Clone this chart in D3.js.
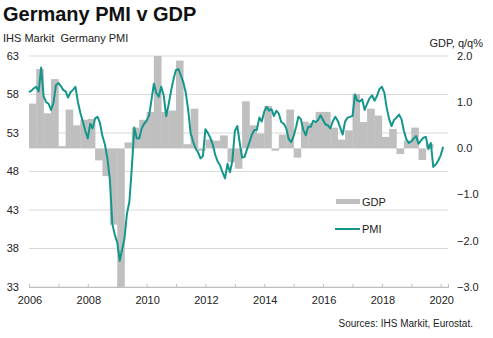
<!DOCTYPE html>
<html>
<head>
<meta charset="utf-8">
<script src="https://cdn.jsdelivr.net/npm/d3@7"></script>
<style>
  body { margin: 0; background: #fff; }
  svg { font-family: "Liberation Sans", Arial, sans-serif; }
  text { white-space: pre; }
</style>
</head>
<body>
<svg width="493" height="338"></svg>
<script>
// Germany composite PMI, monthly, first value = Dec 2005 (plotted at month end)
const pmiStart = new Date(2005, 11, 1);
const pmi = [
  58.3, 58.5, 58.8, 59.0, 58.4, 61.5, 57.8, 57.0, 56.8, 56.0, 56.9, 59.2,
  59.5, 59.1, 58.6, 58.4, 57.6, 58.3, 58.6, 59.0, 57.0, 55.6, 54.5, 53.3,
  52.3, 54.2, 53.6, 54.9, 55.1, 54.3, 52.6, 51.5, 49.7, 47.0, 41.2, 39.8,
  38.8, 36.4, 37.8, 39.3, 42.5, 44.1, 48.5, 53.7, 52.3, 52.3, 53.6, 54.2,
  54.6, 55.3, 57.2, 59.4, 58.2, 57.7, 59.0, 57.9, 55.2, 56.7, 58.5, 60.0,
  61.2, 61.3, 60.5, 59.6, 58.3, 56.0, 53.0, 51.9, 51.0, 50.5, 49.7, 50.0,
  53.5, 53.0, 52.4, 51.5, 50.2, 49.3, 48.8, 47.9, 47.1, 49.0, 47.9, 49.4,
  53.3, 53.9, 51.8, 49.8, 49.9, 50.9, 51.8, 52.8, 53.4, 53.4, 55.0, 54.5,
  55.8, 56.4, 55.9, 56.1, 55.2, 55.9, 55.5, 54.4, 54.2, 53.6, 52.2, 51.8,
  52.6, 53.8, 55.1, 54.8, 53.4, 52.7, 53.8, 53.8, 54.6, 54.4, 54.7, 55.3,
  54.7, 54.1, 54.0, 53.6, 54.5, 55.1, 54.6, 53.7, 52.8, 54.5, 55.0, 55.1,
  55.2, 58.0, 57.2, 57.1, 57.4, 56.0, 56.8, 57.5, 57.9, 57.2, 57.8, 58.7,
  59.0, 58.2, 56.3, 54.8, 53.9, 54.7, 55.0, 55.4, 54.8, 53.3, 52.2, 51.7,
  51.9, 52.3, 52.6, 51.6, 52.0, 52.4, 52.5, 50.9, 51.7, 48.6, 48.9, 49.4,
  50.1, 51.2
];

// GDP q/q %, quarterly from 2006 Q1
const gdpStart = new Date(2006, 0, 1);
const gdp = [
  0.97, 1.72, 0.76, 1.50,
  0.05, 0.84, 0.50, 0.62,
  0.64, -0.26, -0.60, -1.65,
  -4.5, 0.13, 0.45, 0.62,
  0.79, 2.00, 0.79, 0.82,
  1.90, 0.09, 0.86, -0.05,
  0.19, 0.17, 0.28, -0.30,
  -0.44, 1.02, 0.50, 0.32,
  0.92, -0.05, 0.30, 0.84,
  -0.20, 0.58, 0.55, 0.79,
  0.79, 0.45, 0.19, 0.39,
  1.18, 0.57, 0.86, 0.71,
  0.25, 0.42, -0.12, 0.17,
  0.45, -0.25, 0.10, 0.00
];

const pmiTicks = [33, 38, 43, 48, 53, 58, 63];
const gdpTicks = [-3, -2, -1, 0, 1, 2];
const yearLabels = [2006, 2008, 2010, 2012, 2014, 2016, 2018, 2020];

const svg = d3.select('svg');
const grey = '#bfbfbf';
const teal = '#14968b';
const txt = '#222';

const x = d3.scaleTime()
  .domain([new Date(2006, 0, 1), new Date(2020, 3, 1)])
  .range([29, 448]);
const yL = d3.scaleLinear().domain([33, 63]).range([287, 56]);
const yR = d3.scaleLinear().domain([-3, 2]).range([287, 56]);

// title
svg.append('text')
  .attr('x', 3).attr('y', 21)
  .attr('font-size', 20).attr('font-weight', 'bold').attr('fill', '#111')
  .text('Germany PMI v GDP');
svg.append('text')
  .attr('x', 3).attr('y', 42)
  .attr('font-size', 11).attr('fill', txt)
  .text('IHS Markit  Germany PMI');
svg.append('text')
  .attr('x', 483).attr('y', 47)
  .attr('text-anchor', 'end')
  .attr('font-size', 11).attr('fill', txt)
  .text('GDP, q/q%');

// gridlines
svg.append('g')
  .selectAll('line')
  .data(pmiTicks)
  .enter()
  .append('line')
  .attr('x1', x.range()[0]).attr('x2', x.range()[1])
  .attr('y1', d => yL(d)).attr('y2', d => yL(d))
  .attr('stroke', '#d9d9d9').attr('stroke-width', 1);

// gdp bars
svg.append('defs').append('clipPath').attr('id', 'plot')
  .append('rect')
  .attr('x', x.range()[0]).attr('y', 56)
  .attr('width', x.range()[1] - x.range()[0]).attr('height', 231);

svg.append('g')
  .attr('clip-path', 'url(#plot)')
  .selectAll('rect')
  .data(gdp)
  .enter()
  .append('rect')
  .attr('x', (d, i) => x(d3.timeMonth.offset(gdpStart, i * 3)))
  .attr('width', (d, i) => x(d3.timeMonth.offset(gdpStart, i * 3 + 3)) - x(d3.timeMonth.offset(gdpStart, i * 3)) + 0.3)
  .attr('y', d => yR(Math.max(0, d)))
  .attr('height', d => Math.abs(yR(d) - yR(0)))
  .attr('fill', grey);

// pmi line
const line = d3.line()
  .x((d, i) => x(d3.timeMonth.offset(pmiStart, i + 1)))
  .y(d => yL(d));
svg.append('path')
  .datum(pmi)
  .attr('d', line)
  .attr('fill', 'none')
  .attr('stroke', teal)
  .attr('stroke-width', 2)
  .attr('stroke-linejoin', 'round');

// left axis
svg.append('g')
  .selectAll('text')
  .data(pmiTicks)
  .enter()
  .append('text')
  .attr('x', 19).attr('y', d => yL(d))
  .attr('dy', '0.35em')
  .attr('text-anchor', 'end')
  .attr('font-size', 11).attr('fill', txt)
  .text(d => d);

// right axis
svg.append('g')
  .selectAll('text')
  .data(gdpTicks)
  .enter()
  .append('text')
  .attr('x', 457).attr('y', d => yR(d))
  .attr('dy', '0.35em')
  .attr('font-size', 11).attr('fill', txt)
  .text(d => d3.format('.1f')(d));

// x axis
const xAxis = svg.append('g')
  .attr('transform', 'translate(0,287)')
  .call(d3.axisBottom(x)
    .ticks(d3.timeYear.every(1))
    .tickSize(-3)
    .tickFormat(''));
xAxis.select('.domain').attr('stroke', grey);
xAxis.selectAll('.tick line').attr('stroke', grey);

svg.append('g')
  .selectAll('text')
  .data(yearLabels)
  .enter()
  .append('text')
  .attr('x', d => x(new Date(d, 0, 1)) + 1)
  .attr('y', 304)
  .attr('text-anchor', 'middle')
  .attr('font-size', 11).attr('fill', txt)
  .text(d => d);

// legend
const lg = svg.append('g');
lg.append('rect')
  .attr('x', 336).attr('y', 199).attr('width', 24).attr('height', 5)
  .attr('fill', grey);
lg.append('text')
  .attr('x', 362).attr('y', 206)
  .attr('font-size', 11).attr('fill', txt)
  .text('GDP');
lg.append('line')
  .attr('x1', 335).attr('x2', 360).attr('y1', 229).attr('y2', 229)
  .attr('stroke', teal).attr('stroke-width', 2);
lg.append('text')
  .attr('x', 362).attr('y', 233)
  .attr('font-size', 11).attr('fill', txt)
  .text('PMI');

svg.append('text')
  .attr('x', 473).attr('y', 327)
  .attr('text-anchor', 'end')
  .attr('font-size', 10).attr('fill', txt)
  .text('Sources: IHS Markit, Eurostat.');
</script>
</body>
</html>
